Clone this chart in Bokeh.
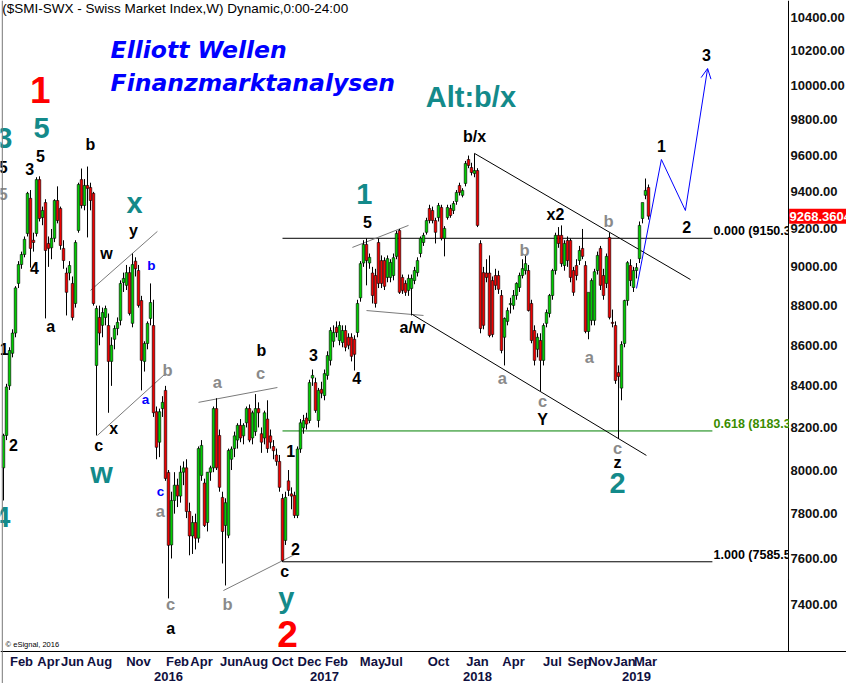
import math
from bokeh.plotting import figure
from bokeh.models import Range1d, Span, Arrow, OpenHead, ColumnDataSource
from bokeh.core.properties import value, field
from bokeh.embed import file_html
from bokeh.resources import INLINE

# ---------------- weekly SMI candles ----------------
open_ = [
    8010, 8162, 8400, 8560, 8661, 8914, 9012, 9065, 9176, 9365, 9140, 9176, 9467, 9261, 9342, 9123,
    9100, 9150, 9353, 9310, 9097, 8968, 8968, 8914, 8811, 9192, 9467, 9326, 9435, 9424, 9392, 8500,
    8740, 8700, 8740, 8699, 8520, 8630, 8684, 8725, 8919, 8904, 8970, 8710, 9030, 8981, 8826, 8520,
    8609, 8735, 8699, 8275, 8130, 8290, 8378, 7989, 7660, 7860, 7930, 7880, 7990, 8010, 7810, 7700,
    7760, 7690, 7975, 7940, 7760, 7990, 8010, 8290, 8162, 7874, 7747, 7703, 8050, 8100, 8140, 8210,
    8160, 8222, 8290, 8150, 8180, 8290, 8170, 8150, 8240, 8160, 8110, 8070, 8040, 7869, 7680, 7950,
    7890, 7883, 7792, 8098, 8198, 8245, 8233, 8438, 8416, 8233, 8383, 8353, 8451, 8525, 8620, 8690,
    8624, 8614, 8674, 8640, 8640, 8630, 8664, 8840, 9020, 9118, 9020, 8968, 8955, 9128, 9033, 9033,
    8945, 8945, 8955, 9055, 9192, 8945, 8914, 8878, 8888, 8929, 8970, 9070, 9128, 9182, 9310, 9299,
    9245, 9261, 9315, 9150, 9261, 9310, 9299, 9348, 9435, 9381, 9446, 9578, 9534, 9500, 9517, 9123,
    8970, 8968, 8968, 8929, 8955, 8955, 8852, 8640, 8720, 8805, 8801, 8852, 8893, 8955, 8981, 8981,
    8811, 8674, 8580, 8624, 8525, 8710, 8760, 8852, 8981, 9166, 9166, 9007, 9139, 9139, 8981, 9007,
    9033, 9097, 9007, 8669, 8725, 8725, 8981, 9097, 8955, 8914, 9155, 8715, 8699, 8465, 8389, 8609,
    8826, 9007, 8893, 8981, 9043, 9256, 9381, 9424]
high = [
    8170, 8410, 8590, 8680, 8900, 9030, 9080, 9160, 9400, 9410, 9180, 9480, 9485, 9320, 9360, 9160,
    9200, 9360, 9430, 9320, 9140, 8996, 9030, 8950, 9140, 9450, 9528, 9470, 9539, 9450, 9400, 8800,
    8800, 8790, 8800, 8760, 8640, 8700, 8740, 8930, 8970, 9010, 9000, 9070, 9050, 9010, 8850, 8620,
    8720, 8914, 8830, 8300, 8290, 8350, 8400, 8000, 7900, 7990, 7960, 8020, 8040, 8050, 7850, 7790,
    7800, 8110, 8140, 7960, 7990, 8020, 8300, 8340, 8190, 7900, 7870, 8100, 8110, 8180, 8220, 8240,
    8220, 8300, 8310, 8280, 8360, 8320, 8200, 8280, 8330, 8190, 8140, 8100, 8070, 7890, 7900, 8000,
    7920, 7900, 8110, 8240, 8260, 8270, 8430, 8480, 8440, 8390, 8420, 8480, 8570, 8690, 8700, 8720,
    8720, 8700, 8700, 8660, 8660, 8650, 8830, 9030, 9140, 9150, 9070, 9000, 8990, 9150, 9060, 9050,
    9060, 9040, 9070, 9190, 9200, 8960, 8930, 8960, 8960, 9000, 9050, 9160, 9180, 9260, 9330, 9320,
    9260, 9340, 9330, 9215, 9330, 9330, 9350, 9410, 9450, 9420, 9570, 9600, 9560, 9612, 9530, 9140,
    9000, 9040, 9060, 8950, 8990, 8980, 8880, 8740, 8790, 8840, 8880, 8920, 8970, 9040, 9060, 9010,
    8830, 8700, 8660, 8660, 8710, 8780, 8860, 8990, 9180, 9210, 9219, 9140, 9160, 9150, 9000, 9040,
    9110, 9200, 9030, 8860, 8940, 8990, 9080, 9110, 8990, 9070, 9180, 8780, 8720, 8500, 8620, 8830,
    9030, 9040, 9000, 9020, 9240, 9340, 9473, 9440]
low = [
    7860, 8140, 8380, 8540, 8640, 8890, 8990, 9050, 9160, 8996, 9080, 9160, 9240, 9220, 8735, 9000,
    9040, 9130, 9230, 9090, 8990, 8750, 8930, 8725, 8790, 9180, 9310, 9300, 9155, 9300, 8800, 8162,
    8600, 8640, 8700, 8270, 8400, 8580, 8650, 8700, 8870, 8880, 8750, 8690, 8950, 8790, 8378, 8470,
    8580, 8700, 8250, 8050, 8060, 8250, 7950, 7426, 7600, 7800, 7830, 7850, 7930, 7780, 7614, 7620,
    7640, 7670, 7950, 7740, 7720, 7950, 7990, 8000, 7900, 7578, 7482, 7690, 8000, 8060, 8100, 8130,
    8120, 8200, 8130, 8120, 8160, 8200, 8080, 8120, 8080, 8100, 8050, 8020, 7900, 7585, 7660, 7880,
    7820, 7780, 7780, 8080, 8170, 8190, 8220, 8400, 8270, 8200, 8340, 8330, 8430, 8500, 8590, 8640,
    8600, 8590, 8570, 8580, 8520, 8475, 8640, 8820, 9000, 8904, 8990, 8811, 8790, 8890, 8890, 8880,
    8920, 8920, 8930, 9040, 8860, 8860, 8850, 8850, 8750, 8910, 8950, 9050, 9110, 9170, 9230, 9230,
    9123, 9240, 9139, 9055, 9250, 9260, 9280, 9330, 9380, 9370, 9430, 9530, 9490, 9480, 9210, 8660,
    8680, 8920, 8640, 8640, 8880, 8860, 8560, 8500, 8700, 8760, 8780, 8830, 8870, 8940, 8960, 8770,
    8610, 8500, 8540, 8373, 8500, 8690, 8740, 8830, 8960, 9100, 9000, 8980, 9000, 8920, 8850, 8930,
    9010, 9040, 8660, 8630, 8700, 8700, 8960, 8880, 8830, 8890, 8730, 8690, 8410, 8145, 8330, 8590,
    8800, 8900, 8870, 8940, 9020, 9230, 9360, 9250]
close = [
    8162, 8395, 8574, 8661, 8891, 9012, 9065, 9145, 9392, 9097, 9128, 9467, 9256, 9299, 9086, 9097,
    9150, 9353, 9245, 9112, 9033, 8868, 9007, 8740, 9128, 9440, 9326, 9435, 9419, 9353, 8811, 8785,
    8661, 8765, 8785, 8520, 8600, 8684, 8715, 8914, 8940, 8970, 8760, 9012, 8990, 8801, 8525, 8609,
    8710, 8816, 8270, 8106, 8275, 8320, 7961, 7658, 7860, 7930, 7880, 7990, 8010, 7810, 7700, 7760,
    7690, 8100, 8115, 7747, 7990, 8010, 8290, 8010, 7920, 7720, 7850, 8091, 8098, 8160, 8210, 8150,
    8210, 8290, 8140, 8270, 8290, 8270, 8130, 8270, 8100, 8130, 8090, 8040, 7920, 7591, 7874, 7906,
    7880, 7792, 8098, 8222, 8233, 8216, 8416, 8451, 8281, 8378, 8364, 8460, 8549, 8674, 8664, 8664,
    8699, 8674, 8590, 8600, 8545, 8555, 8811, 9017, 9118, 9033, 9050, 8852, 8811, 8914, 8914, 8899,
    9043, 9023, 9048, 9176, 8868, 8878, 8868, 8940, 8940, 8981, 9033, 9150, 9166, 9245, 9245, 9245,
    9182, 9326, 9150, 9203, 9315, 9272, 9337, 9397, 9397, 9408, 9556, 9545, 9506, 9517, 9219, 8684,
    8700, 8945, 8649, 8654, 8904, 8884, 8574, 8735, 8775, 8811, 8852, 8914, 8955, 8991, 9017, 8775,
    8624, 8525, 8640, 8525, 8699, 8765, 8852, 8981, 9166, 9123, 9017, 9123, 9033, 8945, 8868, 8955,
    9086, 9055, 8669, 8868, 8929, 8975, 9060, 8904, 8852, 9055, 8740, 8710, 8426, 8446, 8604, 8826,
    9022, 8929, 8981, 8996, 9219, 9342, 9408, 9268.3604]
week = list(range(len(close)))

# ---------------- tick labels ----------------
month_labels = ["Feb", "Apr", "Jun", "Aug", "Nov", "Feb", "Apr", "Jun", "Aug", "Oct", "Dec",
                "Feb", "May", "Jul", "Oct", "Jan", "Apr", "Jul", "Sep", "Nov", "Jan", "Mar"]
month_pos = [6, 15, 23, 32, 45, 58, 66, 76, 84, 93, 102, 111, 123, 130, 145, 158, 170, 183,
             192, 199, 207, 214]
year_labels = ["2016", "2017", "2018", "2019"]
year_pos = [55, 107, 158, 211]
price_ticks = [7400, 7600, 7800, 8000, 8200, 8400, 8600, 8800, 9000, 9200, 9400, 9600,
               9800, 10000, 10200, 10400]

# ---------------- fibonacci levels ----------------
fib_zero = 9150.38
fib_one = 7585.56
fib_ratios = [0.0, 0.618, 1.0]
fib_colors = ["#000000", "#008000", "#000000"]
fib_text_colors = ["#000000", "#3a8c00", "#000000"]
fib_week_start = 93
fib_week_end = 236.3
fib_text_week = 236.7

# ---------------- trend lines (week, price) ----------------
gray_x0 = [29.0, 31.3, 65.0, 73.3, 116.3, 121.0]
gray_y0 = [8878, 8162, 8320, 7460, 9102, 8775]
gray_x1 = [51.3, 54.0, 91.3, 97.3, 135.0, 140.0]
gray_y1 = [9187, 8460, 8392, 7619, 9219, 8750]
black_x0 = [136.3, 157.0]
black_y0 = [8755, 9612]
black_x1 = [214.3, 229.0]
black_y1 = [8068, 8934]

# projected path (blue)
proj_week = [211.0, 219.3, 227.3, 234.7]
proj_price = [8888, 9578, 9299, 10097]

# ---------------- wave labels ----------------
lbl_text = ["1", "5", "3", "5", "5", "3", "5", "b", "4", "a", "1", "x", "y", "w", "b", "b", "2",
            "4", "c", "x", "w", "b", "a", "c", "a", "c", "a", "a", "c", "b", "1", "2", "c", "y",
            "2", "3", "4", "1", "5", "b/x", "x2", "b", "a/w", "a", "c", "Y", "b", "a", "1", "2",
            "3", "c", "z", "2", "Alt:b/x"]
lbl_week = [12.3, 12.7, 0.3, -0.1, -0.1, 8.7, 12.3, 29.0, 10.3, 15.7, 0.2, 43.7, 43.3, 34.3,
            49.3, 86.0, 3.3, -0.4, 31.7, 36.7, 32.7, 54.7, 47.3, 52.3, 52.3, 55.7, 55.7, 71.3,
            85.7, 74.7, 95.7, 97.3, 93.7, 94.3, 94.7, 103.3, 117.7, 120.3, 121.3, 157.0, 184.0,
            173.7, 136.3, 166.3, 179.7, 179.7, 201.7, 195.3, 219.3, 227.7, 234.3, 204.7, 204.7,
            204.7, 155.8]
lbl_price = [9969, 9752, 9701, 9534, 9391, 9523, 9595, 9662, 8992, 8694, 8579, 9342, 9192, 9070,
             9007, 8574, 8119, 7783, 8115, 8195, 7984, 8480, 8334, 7901, 7814, 7404, 7298, 8421,
             8465, 7404, 8091, 7640, 7543, 7430, 7273, 8554, 8436, 9391, 9235, 9707, 9278, 9091,
             8689, 8436, 8329, 8238, 9240, 8544, 9651, 9213, 10179, 8101, 8035, 7938, 9929]
lbl_style = ["red", "teal", "teal", "black", "gray", "black", "black", "black", "black", "black",
             "black", "teal", "black", "black", "blue", "black", "black", "teal", "black", "black",
             "teal", "gray", "blue", "blue", "gray", "gray", "black", "gray", "gray", "gray",
             "black", "black", "black", "teal", "red", "black", "black", "teal", "black", "black",
             "black", "gray", "black", "gray", "gray", "black", "gray", "gray", "black", "black",
             "black", "gray", "black", "teal", "teal"]
style_color = {"red": "#ff0000", "teal": "#138a8a", "black": "#000000",
               "gray": "#8a8a8a", "blue": "#0000ff"}
style_size = {"red": "37px", "teal": "29px", "black": "16px", "gray": "16.5px", "blue": "13.5px"}

header_text = ["Elliott Wellen", "Finanzmarktanalysen"]
header_week = [35.7, 35.7]
header_price = [10203, 10010]
title_text = "($SMI-SWX - Swiss Market Index,W) Dynamic,0:00-24:00"
title_week, title_price = -0.4, 10454
copy_text = "\u00a9 eSignal, 2016"
copy_week, copy_price = 0.7, 7231
last_price_text = "9268.3604"

FONT = "Liberation Sans"
W, H = 846, 683
PLOT_H = 651                       # pixel height of the price area above the time axis
Y_AXIS, Y_END = 7201, 10503        # price at the time axis / at the top edge
PX_PER_LN = PLOT_H / math.log(Y_END / Y_AXIS)
Y_BOTTOM = Y_AXIS * math.exp(-(H - PLOT_H) / PX_PER_LN)
X_START, X_AXIS, X_END = -1, 261.67, 281
MONTH_DY, YEAR_DY = 10, 25         # label rows below the time axis, in pixels
AXIS_TEXT_COLOR = "#101040"

p = figure(width=W, height=H, x_range=Range1d(X_START, X_END),
           y_range=Range1d(Y_BOTTOM, Y_END), y_axis_type="log",
           x_axis_location=None, y_axis_location=None, output_backend="svg",
           toolbar_location=None, min_border_left=0, min_border_right=0,
           min_border_top=0, min_border_bottom=0)
p.grid.visible = False
p.outline_line_color = None
p.background_fill_color = "white"
p.border_fill_color = "white"

# ----- time axis: line, month row, year row -----
p.segment(x0=[X_START], y0=[Y_AXIS], x1=[X_END], y1=[Y_AXIS], line_color="black",
          line_width=1)
y_month = Y_AXIS * math.exp(-MONTH_DY / PX_PER_LN)
y_year = Y_AXIS * math.exp(-YEAR_DY / PX_PER_LN)
p.text(x=month_pos, y=[y_month] * len(month_pos), text=month_labels, text_font=value(FONT),
       text_font_size="13px", text_font_style="bold", text_color=AXIS_TEXT_COLOR,
       text_align="center", text_baseline="middle")
p.text(x=year_pos, y=[y_year] * len(year_pos), text=year_labels, text_font=value(FONT),
       text_font_size="13px", text_font_style="bold", text_color=AXIS_TEXT_COLOR,
       text_align="center", text_baseline="middle")

# ----- price axis on the right: line -----
p.segment(x0=[X_AXIS], y0=[Y_AXIS], x1=[X_AXIS], y1=[Y_END], line_color="black", line_width=1)

p.add_layout(Span(location=-0.4, dimension="height", line_color="#777777", line_width=1))

# fib lines
fib_levels = [fib_zero - r * (fib_zero - fib_one) for r in fib_ratios]
p.segment(x0=[fib_week_start] * 3, y0=fib_levels, x1=[fib_week_end] * 3, y1=fib_levels,
          line_color=fib_colors, line_width=1)
fib_src = ColumnDataSource(dict(
    x=[fib_text_week] * 3, y=fib_levels,
    t=["%.3f (%.2f)" % (r, v) for r, v in zip(fib_ratios, fib_levels)], c=fib_text_colors))
p.text(x="x", y="y", text="t", text_color="c", source=fib_src, text_font=value(FONT),
       text_font_size="12.5px", text_font_style="bold", text_align="left",
       text_baseline="bottom")
# the level texts are cut at the price axis, as in the original
p.quad(left=[X_AXIS + 0.15], right=[X_END], bottom=[min(fib_levels) * 0.99],
       top=[max(fib_levels) * 1.01], fill_color="white", line_color=None)

# price tick labels
p.text(x=[X_AXIS] * len(price_ticks), y=price_ticks, text=["%.2f" % t for t in price_ticks],
       x_offset=2, text_font=value(FONT), text_font_size="13px", text_font_style="bold",
       text_color="#111111", text_align="left", text_baseline="middle")

# trend lines
p.segment(x0=gray_x0, y0=gray_y0, x1=gray_x1, y1=gray_y1, line_color="#7a7a7a", line_width=1)
p.segment(x0=black_x0, y0=black_y0, x1=black_x1, y1=black_y1, line_color="#000000",
          line_width=1)

# candles
body_top = [max(o, c) for o, c in zip(open_, close)]
body_bot = [min(o, c) for o, c in zip(open_, close)]
body_col = ["#00cc00" if c >= o else "#ee0000" for o, c in zip(open_, close)]
p.segment(x0=week, y0=low, x1=week, y1=high, line_color="black", line_width=1)
p.vbar(x=week, width=0.85, top=body_top, bottom=body_bot, fill_color=body_col,
       line_color="black", line_width=0.6)

# projection
p.line(x=proj_week[:3], y=proj_price[:3], line_color="#0000ff", line_width=1)
p.add_layout(Arrow(end=OpenHead(size=10, line_color="#0000ff", line_width=1),
                   x_start=proj_week[2], y_start=proj_price[2],
                   x_end=proj_week[3], y_end=proj_price[3],
                   line_color="#0000ff", line_width=1))

# wave labels
lsrc = ColumnDataSource(dict(x=lbl_week, y=lbl_price, t=lbl_text,
                             c=[style_color[s] for s in lbl_style],
                             s=[style_size[s] for s in lbl_style]))
p.text(x="x", y="y", text="t", text_color="c", text_font_size=field("s"), source=lsrc,
       text_font=value(FONT), text_font_style="bold", text_align="center",
       text_baseline="middle")

p.text(x=header_week, y=header_price, text=header_text, text_font=value("DejaVu Sans"),
       text_font_style="bold italic", text_font_size="23.5px", text_color="#0000ff",
       text_align="left", text_baseline="middle")
p.text(x=[title_week], y=[title_price], text=[title_text], text_font=value(FONT),
       text_font_size="13.5px", text_color="#000000", text_align="left",
       text_baseline="middle")
p.text(x=[copy_week], y=[copy_price], text=[copy_text], text_font=value(FONT),
       text_font_size="7.5px", text_color="#000000", text_align="left", text_baseline="middle")

# last price marker on the price axis
p.rect(x=[(X_AXIS + X_END) / 2 + 0.2], y=[close[-1]], width=[X_END - X_AXIS], height=15,
       height_units="screen", fill_color="#ff0000", line_color=None)
p.text(x=[X_AXIS], y=[close[-1]], text=[last_price_text], x_offset=1, text_font=value(FONT),
       text_font_size="13px", text_font_style="bold", text_color="white",
       text_align="left", text_baseline="middle")

open("out.html", "w").write(file_html(p, INLINE))
